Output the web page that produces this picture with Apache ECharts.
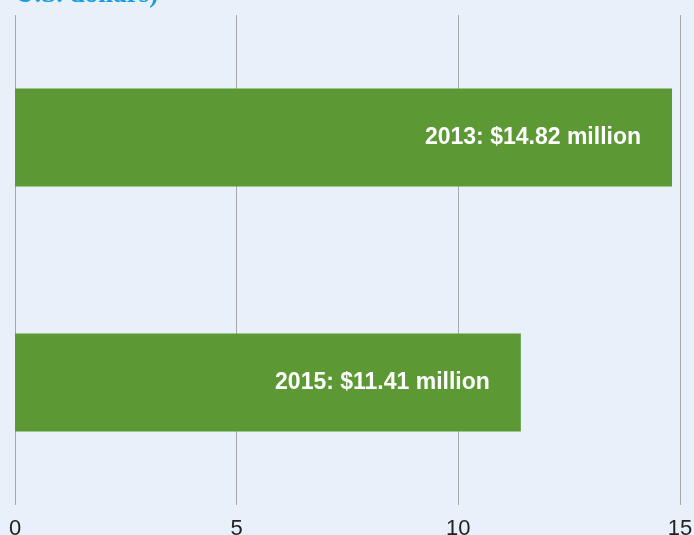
<!DOCTYPE html>
<html>
<head>
<meta charset="utf-8">
<script src="https://cdn.jsdelivr.net/npm/echarts@6/dist/echarts.min.js"></script>
<style>
  html, body { margin: 0; padding: 0; background: #e8f0f9; }
  #chart { width: 694px; height: 535px; }
</style>
</head>
<body>
<div id="chart"></div>
<script>
// data
var years = ["2013", "2015"];
var values = [14.82, 11.41];
var xTicks = [0, 5, 10, 15];

var chart = echarts.init(document.getElementById("chart"));

chart.setOption({
  backgroundColor: "#e8f0f9",
  animation: false,
  graphic: [
    {
      type: "text",
      left: 15,
      top: -18,
      style: {
        text: "U.S. dollars)",
        fill: "#1b9be0",
        font: "bold 27px 'Liberation Serif', serif"
      }
    }
  ],
  grid: { left: 15, right: 14, top: 15, bottom: 30, outerBoundsMode: "none" },
  xAxis: {
    type: "value",
    min: xTicks[0],
    max: xTicks[xTicks.length - 1],
    interval: 5,
    axisLine: { show: false },
    axisTick: { show: false },
    splitLine: { show: true, lineStyle: { color: "#a8a8a8", width: 1 } },
    axisLabel: {
      margin: 13,
      color: "#222",
      fontSize: 22,
      fontFamily: "Liberation Sans, Arial, sans-serif"
    }
  },
  yAxis: {
    type: "category",
    data: years,
    inverse: true,
    axisLine: { show: false },
    axisTick: { show: false },
    axisLabel: { show: false },
    splitLine: { show: false }
  },
  series: [
    {
      type: "bar",
      data: values,
      barWidth: "40%",
      itemStyle: { color: "#5c9934" },
      label: {
        show: true,
        position: "insideRight",
        distance: 31,
        color: "#fff",
        fontSize: 23,
        fontWeight: "bold",
        fontFamily: "Liberation Sans, Arial, sans-serif",
        formatter: function (p) {
          return p.name + ": $" + p.value.toFixed(2) + " million";
        }
      }
    }
  ]
});
</script>
</body>
</html>
